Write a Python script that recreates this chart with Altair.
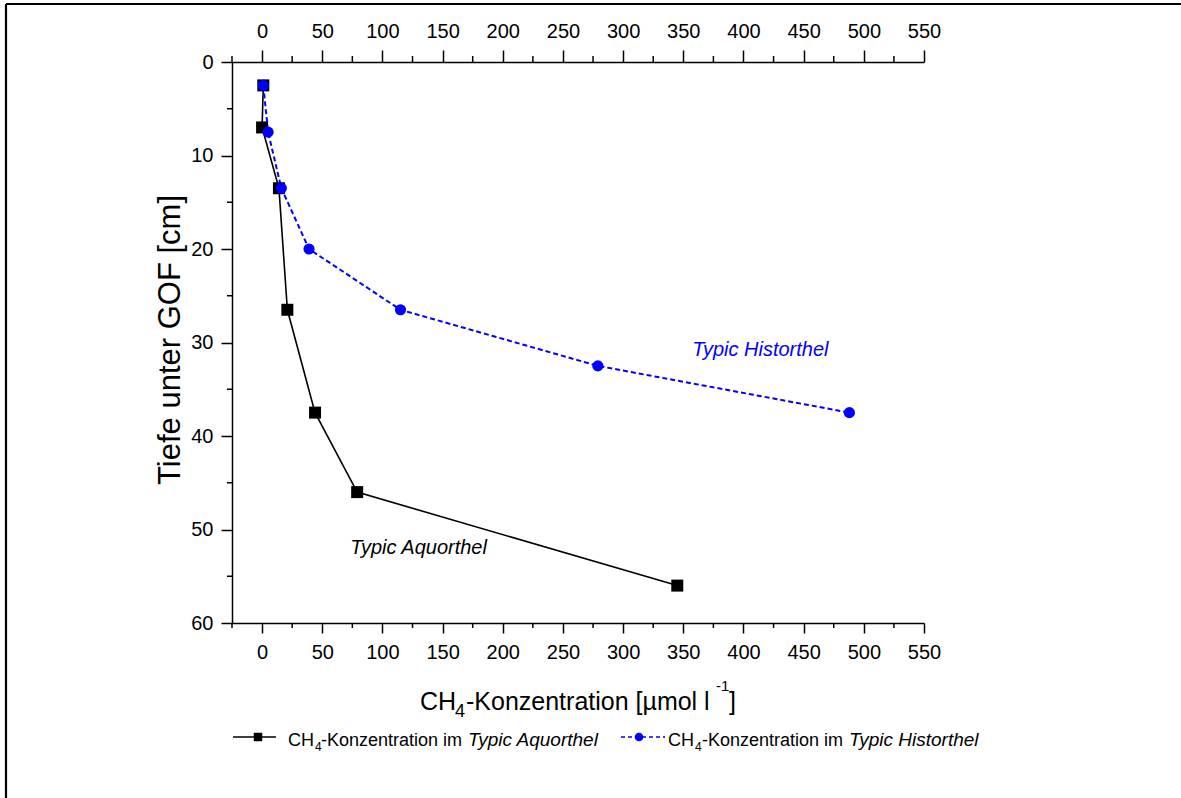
import altair as alt
import pandas as pd

FONT = "Liberation Sans"

# CH4 profile in the Typic Aquorthel (concentration in µmol/l, depth in cm)
aq_conc = [1, 0, 14, 21, 44, 79, 345]
aq_depth = [2.5, 7, 13.5, 26.5, 37.5, 46, 56]

# CH4 profile in the Typic Historthel
hi_conc = [1, 5, 16, 39, 115, 279, 488]
hi_depth = [2.5, 7.5, 13.5, 20, 26.5, 32.5, 37.5]

# axis tick values
x_major = list(range(0, 551, 50))
x_minor = list(range(-25, 551, 50))
y_major = list(range(0, 61, 10))
y_minor = list(range(5, 60, 10))

# soil type labels next to the curves
soil_names = ["Typic Historthel", "Typic Aquorthel"]
soil_conc = [414, 130]
soil_depth = [30.8, 52.0]
soil_colors = ["#0000ff", "#000000"]

W, H = 692, 561
X_DOMAIN = [-25, 550]
Y_DOMAIN = [0, 60]

aq = pd.DataFrame({"conc": aq_conc, "depth": aq_depth, "i": range(len(aq_conc))})
hi = pd.DataFrame({"conc": hi_conc, "depth": hi_depth, "i": range(len(hi_conc))})


def axis_style(**kw):
    base = dict(title=None, grid=False, domainColor="black", domainWidth=1.5,
                tickColor="black", tickWidth=1.5, labelFont=FONT, labelFontSize=20,
                labelColor="black", labelOverlap=False, labelFlush=False)
    base.update(kw)
    return alt.Axis(**base)


bottom_axis = axis_style(orient="bottom", values=x_major, tickSize=10, labelPadding=9)
top_axis = axis_style(orient="top", values=x_major, tickSize=12, labelPadding=9)
left_axis = axis_style(orient="left", values=y_major, tickSize=11, labelPadding=8)


def xenc(axis=None):
    return alt.X("conc:Q", scale=alt.Scale(domain=X_DOMAIN, nice=False, zero=False),
                 axis=axis)


def yenc():
    # every layer carries the same left axis so the shared axis is kept
    return alt.Y("depth:Q", scale=alt.Scale(domain=Y_DOMAIN, reverse=True, nice=False,
                                            zero=False), axis=left_axis)


# Aquorthel: solid black line with square markers
aq_line = alt.Chart(aq).mark_line(color="black", strokeWidth=1.6).encode(
    x=xenc(bottom_axis), y=yenc(), order="i:O")
aq_pts = alt.Chart(aq).mark_point(shape="square", filled=True, opacity=1,
                                  color="black", size=144).encode(
    x=xenc(), y=yenc())

# Historthel: dashed blue line with circle markers
hi_line = alt.Chart(hi).mark_line(color="#0000ff", strokeWidth=2,
                                  strokeDash=[5, 3]).encode(
    x=xenc(), y=yenc(), order="i:O")
hi_pts = alt.Chart(hi).mark_point(shape="circle", filled=True, opacity=1,
                                  color="#0000ff", size=125).encode(
    x=xenc(), y=yenc())

# minor ticks
minor_x = pd.DataFrame({"conc": x_minor})
minor_y = pd.DataFrame({"depth": y_minor})
tick_bottom = alt.Chart(minor_x).mark_rule(color="black", strokeWidth=1.5).encode(
    x=xenc(), y=alt.value(H), y2=alt.value(H + 5))
tick_top = alt.Chart(minor_x).mark_rule(color="black", strokeWidth=1.5).encode(
    x=xenc(top_axis), y=alt.value(0), y2=alt.value(-6))
tick_left = alt.Chart(minor_y).mark_rule(color="black", strokeWidth=1.5).encode(
    y=yenc(), x=alt.value(0), x2=alt.value(-5))

# soil type annotations
soil = pd.DataFrame({"name": soil_names, "conc": soil_conc, "depth": soil_depth,
                     "col": soil_colors})
soil_text = alt.Chart(soil).mark_text(font=FONT, fontSize=20, fontStyle="italic",
                                      align="center", baseline="middle").encode(
    x=xenc(), y=yenc(), text="name:N",
    color=alt.Color("col:N", scale=None))


def label(text, x, y, size, style="normal", color="black", align="left",
          baseline="alphabetic", angle=0):
    return alt.Chart(pd.DataFrame({"t": [text]})).mark_text(
        font=FONT, fontSize=size, fontStyle=style, color=color, align=align,
        baseline=baseline, angle=angle).encode(
        x=alt.value(x), y=alt.value(y), text="t:N")


# axis titles
y_title = label("Tiefe unter GOF [cm]", -61, 278, 31, align="center",
                baseline="middle", angle=270)
x_title = [
    label("CH", 188, 648, 25),
    label("4", 223, 655, 18),
    label("-Konzentration [µmol l", 234, 648, 25),
    label("-1", 484, 629, 15),
    label("]", 497, 648, 25),
]

# legend
LY = 675
LB = 684
legend = [
    alt.Chart(pd.DataFrame({"a": [0]})).mark_rule(color="black", strokeWidth=1.6).encode(
        x=alt.value(1), x2=alt.value(44), y=alt.value(LY)),
    alt.Chart(pd.DataFrame({"a": [0]})).mark_point(shape="square", filled=True, opacity=1,
                                                   color="black", size=72).encode(
        x=alt.value(26), y=alt.value(LY)),
    label("CH", 56, LB, 18),
    label("4", 83, LB + 5, 12),
    label("-Konzentration im", 89, LB, 18),
    label("Typic Aquorthel", 236, LB, 19, style="italic"),
    alt.Chart(pd.DataFrame({"a": [0]})).mark_rule(color="#0000ff", strokeWidth=1.6,
                                                  strokeDash=[4, 3]).encode(
        x=alt.value(389), x2=alt.value(433), y=alt.value(LY)),
    alt.Chart(pd.DataFrame({"a": [0]})).mark_point(shape="circle", filled=True, opacity=1,
                                                   color="#0000ff", size=75).encode(
        x=alt.value(407), y=alt.value(LY)),
    label("CH", 436, LB, 18),
    label("4", 463, LB + 5, 12),
    label("-Konzentration im", 470, LB, 18),
    label("Typic Historthel", 617, LB, 19, style="italic"),
]

# outer frame (top and left edges)
frame = [
    alt.Chart(pd.DataFrame({"a": [0]})).mark_rule(color="black", strokeWidth=2.2).encode(
        x=alt.value(-226), x2=alt.value(949), y=alt.value(-58)),
    alt.Chart(pd.DataFrame({"a": [0]})).mark_rule(color="black", strokeWidth=2.2).encode(
        x=alt.value(-226), y=alt.value(-58), y2=alt.value(736)),
]

chart = alt.layer(
    aq_line, aq_pts, hi_line, hi_pts, tick_bottom, tick_top, tick_left, soil_text,
    y_title, *x_title, *legend, *frame
).resolve_scale(x="independent").properties(
    width=W, height=H,
    autosize=alt.AutoSizeParams(type="none"),
    padding={"left": 232, "top": 62, "right": 1181 - 232 - W, "bottom": 798 - 62 - H},
    background="white",
).configure_view(stroke=None)

chart.save("out.html", embed_options={"renderer": "svg", "actions": False})
